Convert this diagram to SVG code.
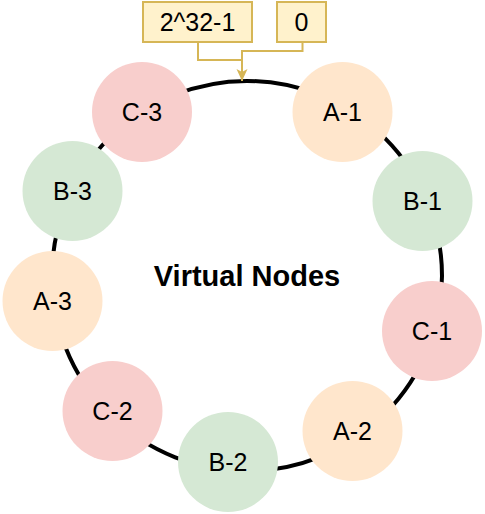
<svg xmlns="http://www.w3.org/2000/svg" width="485" height="514" viewBox="0 0 485 514">
<style>
.lbl{font-family:"Liberation Sans",Arial,Helvetica,sans-serif;font-size:25px;fill:#000;text-anchor:middle}
.a{fill:#ffe6cc}.b{fill:#d5e8d4}.c{fill:#f8cecc}
.box{fill:#fff2cc;stroke:#d6b656;stroke-width:2}
.conn{fill:none;stroke:#d6b656;stroke-width:2}
</style>
<defs>
<marker id="arr" viewBox="0 0 12 12" refX="12" refY="6" markerWidth="12" markerHeight="12" markerUnits="userSpaceOnUse" orient="auto">
<path d="M0,0.5 L12,6 L0,11.5 L3,6 Z" fill="#d6b656"/>
</marker>
</defs>
<rect width="485" height="514" fill="#fff"/>
<g id="ring"><circle cx="247" cy="276" r="195" fill="none" stroke="#000" stroke-width="4"/></g>
<g id="connectors">
<path class="conn" d="M198,42 V60 H242 V81" marker-end="url(#arr)"/>
<path class="conn" d="M302.5,42 V51 H242 V75"/>
</g>
<g id="box-max"><rect class="box" x="143" y="2" width="109" height="40"/><text class="lbl" x="197.5" y="31">2^32-1</text></g>
<g id="box-zero"><rect class="box" x="277" y="2" width="49" height="40"/><text class="lbl" x="301.5" y="31">0</text></g>
<g id="title"><text x="247" y="286" font-family="'Liberation Sans',Arial,Helvetica,sans-serif" font-size="29" font-weight="bold" text-anchor="middle">Virtual Nodes</text></g>
<g id="node-C3"><circle class="c" cx="142" cy="112" r="50"/><text class="lbl" x="142" y="121">C-3</text></g>
<g id="node-A1"><circle class="a" cx="342.5" cy="112" r="50"/><text class="lbl" x="342.5" y="121">A-1</text></g>
<g id="node-B3"><circle class="b" cx="72.5" cy="191" r="50"/><text class="lbl" x="72.5" y="200">B-3</text></g>
<g id="node-B1"><circle class="b" cx="422.5" cy="201" r="50"/><text class="lbl" x="422.5" y="210">B-1</text></g>
<g id="node-A3"><circle class="a" cx="52.5" cy="301" r="50"/><text class="lbl" x="52.5" y="310">A-3</text></g>
<g id="node-C1"><circle class="c" cx="432" cy="331" r="50"/><text class="lbl" x="432" y="340">C-1</text></g>
<g id="node-C2"><circle class="c" cx="112.5" cy="411" r="50"/><text class="lbl" x="112.5" y="420">C-2</text></g>
<g id="node-A2"><circle class="a" cx="352.5" cy="431" r="50"/><text class="lbl" x="352.5" y="440">A-2</text></g>
<g id="node-B2"><circle class="b" cx="228" cy="462" r="50"/><text class="lbl" x="228" y="471">B-2</text></g>
</svg>
